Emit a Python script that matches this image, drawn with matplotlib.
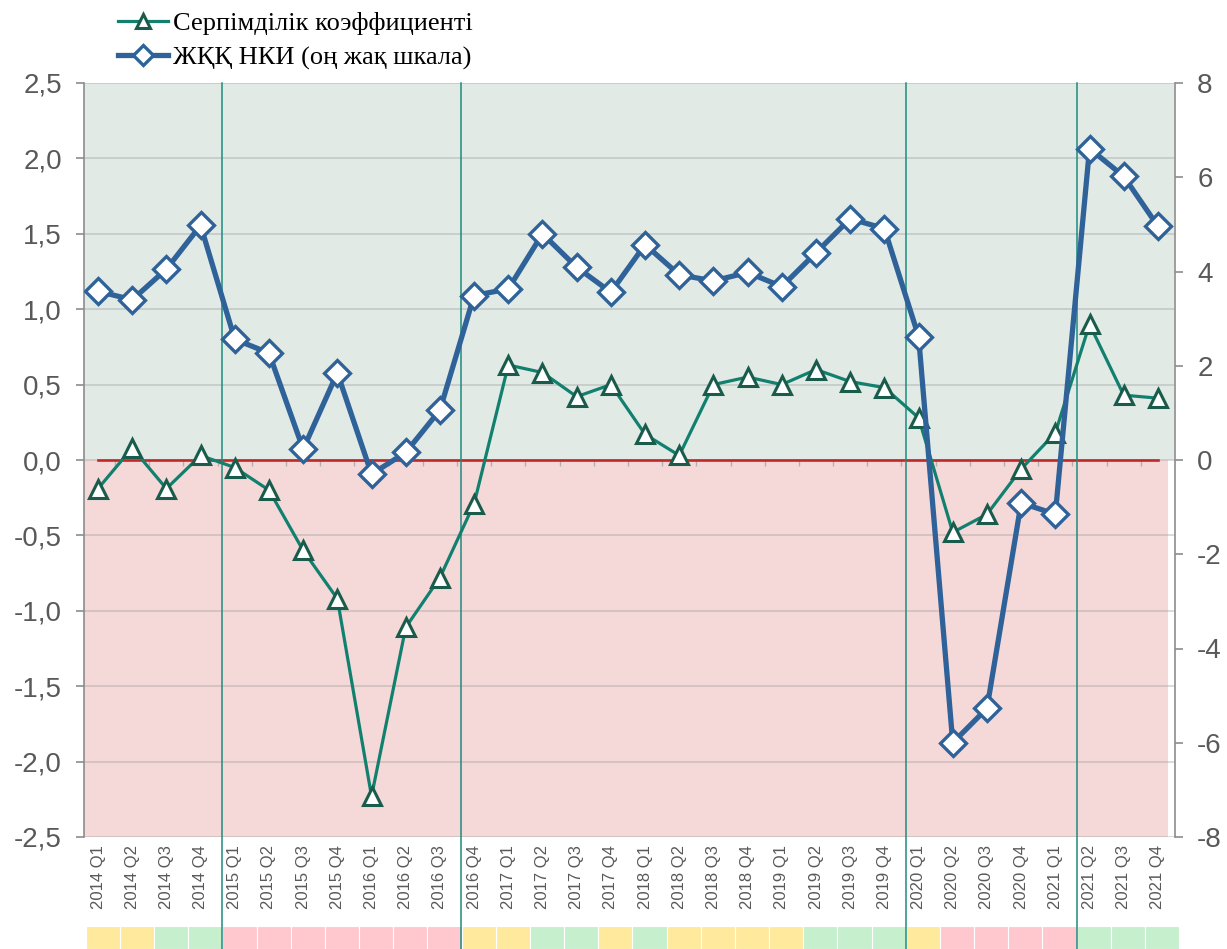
import matplotlib
matplotlib.use("Agg")
import matplotlib.pyplot as plt
import matplotlib.transforms as mtransforms
from matplotlib.lines import Line2D
from matplotlib.patches import Rectangle

# --------------------------------------------------------------------------- #
# data                                                                         #
# --------------------------------------------------------------------------- #
quarters = [
    "2014 Q1", "2014 Q2", "2014 Q3", "2014 Q4",
    "2015 Q1", "2015 Q2", "2015 Q3", "2015 Q4",
    "2016 Q1", "2016 Q2", "2016 Q3", "2016 Q4",
    "2017 Q1", "2017 Q2", "2017 Q3", "2017 Q4",
    "2018 Q1", "2018 Q2", "2018 Q3", "2018 Q4",
    "2019 Q1", "2019 Q2", "2019 Q3", "2019 Q4",
    "2020 Q1", "2020 Q2", "2020 Q3", "2020 Q4",
    "2021 Q1", "2021 Q2", "2021 Q3", "2021 Q4",
]
elasticity = [-0.19, 0.08, -0.19, 0.03, -0.05, -0.20, -0.60, -0.92,
              -2.23, -1.11, -0.78, -0.29, 0.63, 0.58, 0.42, 0.50,
              0.17, 0.03, 0.50, 0.55, 0.50, 0.60, 0.52, 0.48,
              0.28, -0.48, -0.36, -0.06, 0.18, 0.90, 0.43, 0.41]
nki = [3.58, 3.40, 4.05, 4.98, 2.56, 2.27, 0.23, 1.85,
       -0.30, 0.16, 1.06, 3.49, 3.63, 4.80, 4.09, 3.56,
       4.57, 3.93, 3.80, 3.98, 3.68, 4.40, 5.12, 4.91,
       2.62, -6.00, -5.27, -0.91, -1.15, 6.61, 6.02, 4.96]
# phase of each quarter for the colour strip under the labels
phase = ["Y", "Y", "G", "G", "R", "R", "R", "R",
         "R", "R", "R", "Y", "Y", "G", "G", "Y",
         "G", "Y", "Y", "Y", "Y", "G", "G", "G",
         "Y", "R", "R", "R", "R", "G", "G", "G"]
# quarters where a new phase block starts (vertical separators)
breaks = [4, 11, 24, 29]

left_ticks = [2.5, 2.0, 1.5, 1.0, 0.5, 0.0, -0.5, -1.0, -1.5, -2.0, -2.5]
right_ticks = [8, 6, 4, 2, 0, -2, -4, -6, -8]

label_el = "Серпімділік коэффициенті"
label_nki = "ЖҚҚ НКИ (оң жақ шкала)"

# --------------------------------------------------------------------------- #
# style                                                                        #
# --------------------------------------------------------------------------- #
plt.rcParams["font.family"] = ["Liberation Sans", "DejaVu Sans"]
GRAY = "#595959"
GREEN = "#12806E"
GREEN_EDGE = "#1A5C4C"
BLUE = "#2F6298"
TEAL = "#1E8C7E"
strip_colors = {"Y": "#FFE99C", "G": "#C6EFCE", "R": "#FFC7CE"}

W, H = 1227, 949
fig = plt.figure(figsize=(W / 100, H / 100), dpi=100)

x0, x1 = 84, 1175
y0, y1 = 83, 837
ax = fig.add_axes([x0 / W, 1 - y1 / H, (x1 - x0) / W, (y1 - y0) / H])
ax.patch.set_visible(False)
x = list(range(len(quarters)))
xlim = (-0.41, 31.5)

# background zones
ax.axhspan(0, 2.5, xmin=0, xmax=0.9995, color="#E1EAE5", zorder=0.1, lw=0)
ax.axhspan(-2.5, 0, xmin=0, xmax=0.994, color="#F5D9D9", zorder=0.1, lw=0)
for t in left_ticks:
    ax.axhline(t, color="#A0A0A0", alpha=0.45, lw=1.2, zorder=0.2)

# small category ticks on the zero line
ax.vlines([k + 0.5 for k in range(len(quarters) - 1)], -0.04, 0,
          color="#B0B0B0", lw=1, zorder=0.3)
ax.plot([0, len(quarters) - 1], [0, 0], color="#C0282A", lw=1.9, zorder=0.5)

# vertical phase separators from the plot top down through the strip
blend = mtransforms.blended_transform_factory(ax.transData, fig.transFigure)
for b in breaks:
    ax.add_line(Line2D([b - 0.37, b - 0.37], [0, 1 - y0 / H], transform=blend,
                       color=TEAL, lw=1.1, zorder=0.6, clip_on=False))

ax.plot(x, elasticity, color=GREEN, lw=2.3, marker="^", markersize=13,
        markerfacecolor="white", markeredgecolor=GREEN_EDGE,
        markeredgewidth=2.2, zorder=3, label=label_el)

ax.set_xlim(*xlim)
ax.set_ylim(-2.5, 2.5)
ax.set_yticks(left_ticks)
ax.set_yticklabels([f"{v:.1f}".replace(".", ",") for v in left_ticks])
ax.tick_params(axis="y", colors="#8C8C8C", labelcolor=GRAY, labelsize=20,
               length=6, width=1.2, pad=10)
ax.set_xticks(x)
ax.set_xticklabels(quarters, rotation=90, color=GRAY, fontsize=12)
ax.tick_params(axis="x", length=0, pad=6)
for s in ["top", "right", "bottom"]:
    ax.spines[s].set_visible(False)
ax.spines["left"].set_color("#8C8C8C")
ax.spines["left"].set_linewidth(1.2)

ax2 = ax.twinx()
ax2.plot(x, nki, color=BLUE, lw=3.8, marker="D", markersize=13,
         markerfacecolor="white", markeredgecolor=BLUE,
         markeredgewidth=2.4, zorder=3, label=label_nki)
ax2.set_xlim(*xlim)
ax2.set_ylim(-8, 8)
ax2.set_yticks(right_ticks)
ax2.set_yticklabels([str(v) for v in right_ticks])
ax2.tick_params(axis="y", colors="#8C8C8C", labelcolor=GRAY, labelsize=20,
                length=6, width=1.2, pad=10)
for s in ["top", "left", "bottom"]:
    ax2.spines[s].set_visible(False)
ax2.spines["right"].set_color("#8C8C8C")
ax2.spines["right"].set_linewidth(1.2)

# colour strip below the tick labels
sx0, sx1, sy0 = 85.7, 1179, 926
strip = fig.add_axes([sx0 / W, 0, (sx1 - sx0) / W, (H - sy0) / H], zorder=-1)
for k, p in enumerate(phase):
    strip.add_patch(Rectangle((k, 0), 1, 1, facecolor=strip_colors[p],
                              edgecolor="#FFFFFF", lw=0.8))
strip.set_xlim(0, len(phase))
strip.set_ylim(0, 1)
strip.axis("off")

# legend
h1, l1 = ax.get_legend_handles_labels()
h2, l2 = ax2.get_legend_handles_labels()
fig.legend(h1 + h2, l1 + l2, loc="upper left", bbox_to_anchor=(118 / W, 1 - 12 / H),
           frameon=False, borderpad=0, borderaxespad=0, handlelength=1.9,
           handletextpad=0.2, labelspacing=0.4, markerscale=0.75,
           prop={"family": "Liberation Serif", "size": 19})

fig.savefig("out.png", dpi=100)
